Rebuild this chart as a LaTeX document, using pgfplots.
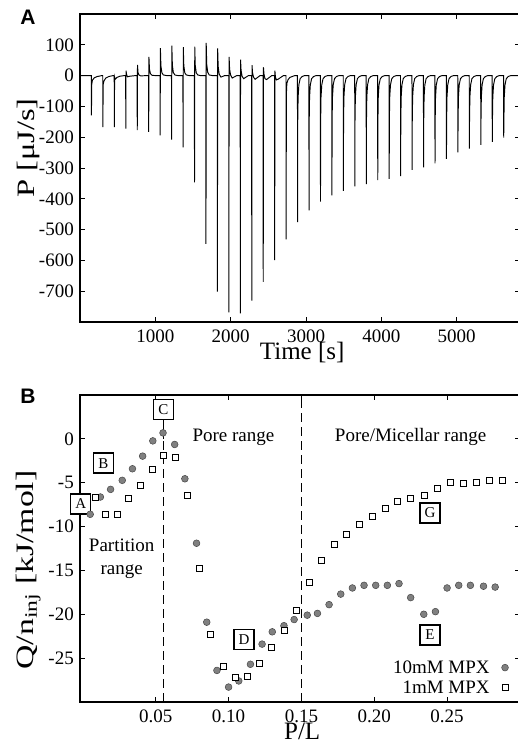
\documentclass[border=0pt]{standalone}
\usepackage{fontspec}
\setmainfont{Liberation Serif}
\newfontfamily\arialfont{Liberation Sans}
\usepackage{graphicx}
\usepackage{pgfplots}
\pgfplotsset{compat=1.18}
\definecolor{circfill}{RGB}{128,128,128}
\definecolor{circedge}{RGB}{70,70,70}
\begin{document}
\begin{tikzpicture}
\pgfplotsset{
 myaxis/.style={scale only axis, width=440pt,
   axis line style={line width=1.5pt},
   tick align=inside, major tick length=5pt,
   tick style={black, line width=0.9pt},
   ticklabel style={font=\fontsize{19}{21}\selectfont, inner sep=1pt},
   xticklabel style={yshift=-7pt},
   yticklabel style={xshift=-5pt},
   /pgf/number format/assume math mode=true,
   label style={font=\fontsize{25}{28}\selectfont, inner sep=0pt}}
}
% ---------------- Panel A ----------------
\begin{axis}[myaxis, at={(80pt,424pt)}, anchor=south west, height=308pt,
  xmin=0, xmax=5840, ymin=-800, ymax=200,
  xtick={1000,2000,3000,4000,5000}, xticklabels={1000,2000,3000,4000,5000},
  ytick={-700,-600,-500,-400,-300,-200,-100,0,100},
  yticklabels={-700,-600,-500,-400,-300,-200,-100,0,100},
  xlabel={Time [s]}, ylabel={\scalebox{1.3}[1]{P [μJ/s]}},
  xlabel style={at={(axis description cs:0.505,-0.1)}, anchor=center},
  ylabel style={at={(axis description cs:-0.118,0.565)}, anchor=center}]
\addplot[black, line width=0.95pt] coordinates {
(0,0)
(150,0)(152,-129)(155,-30)(165,-15)(190,-7)(230,-3)(290,0)
(302,0)(304,-167)(307,-30)(317,-18)(342,-8)(382,-3)(440,0)
(454,0)(456,-167)(459,-5)(466,-12)(490,-6)(530,-2)(590,0)
(606,0)(608,-172)(611,16)(618,4)(630,-4)(660,-2)(740,0)
(758,0)(760,-177)(763,35)(770,10)(782,2)(805,-1)(890,0)
(910,0)(912,-183)(915,61)(922,21)(935,6)(955,1)(1000,0)
(1062,0)(1064,-194)(1067,89)(1074,31)(1087,9)(1107,2)(1150,0)
(1214,0)(1216,-208)(1219,97)(1226,34)(1239,10)(1259,2)(1300,0)
(1366,0)(1368,-233)(1371,92)(1378,32)(1391,9)(1411,2)(1450,0)
(1518,0)(1520,-347)(1523,94)(1530,33)(1543,9)(1563,2)(1600,0)
(1670,0)(1672,-546)(1675,106)(1682,37)(1695,11)(1715,2)(1760,0)
(1822,0)(1824,-701)(1827,88)(1834,30)(1847,5)(1870,-5)(1920,0)
(1974,0)(1976,-769)(1979,61)(1986,20)(1999,2)(2020,-8)(2080,0)
(2126,0)(2128,-772)(2131,52)(2138,17)(2151,-2)(2172,-10)(2235,0)
(2278,0)(2280,-731)(2283,34)(2290,10)(2303,-5)(2324,-12)(2390,0)
(2430,0)(2432,-670)(2435,27)(2442,5)(2455,-10)(2476,-13)(2545,0)
(2582,0)(2584,-599)(2587,16)(2594,-5)(2607,-14)(2628,-12)(2700,0)
(2734,0)(2736,-532)(2739,-60)(2746,-25)(2760,-14)(2785,-6)(2850,0)
(2886,0)(2888,-476)(2890,-150)(2895,-70)(2905,-30)(2922,-10)(2948,-3)(2981,0)
(3038,0)(3040,-438)(3042,-150)(3047,-70)(3057,-30)(3074,-10)(3100,-3)(3133,0)
(3190,0)(3192,-409)(3194,-150)(3199,-70)(3209,-30)(3226,-10)(3252,-3)(3285,0)
(3342,0)(3344,-389)(3346,-150)(3351,-70)(3361,-30)(3378,-10)(3404,-3)(3437,0)
(3494,0)(3496,-374)(3498,-150)(3503,-70)(3513,-30)(3530,-10)(3556,-3)(3589,0)
(3646,0)(3648,-360)(3650,-150)(3655,-70)(3665,-30)(3682,-10)(3708,-3)(3741,0)
(3798,0)(3800,-352)(3802,-150)(3807,-70)(3817,-30)(3834,-10)(3860,-3)(3893,0)
(3950,0)(3952,-339)(3954,-150)(3959,-70)(3969,-30)(3986,-10)(4012,-3)(4045,0)
(4102,0)(4104,-335)(4106,-150)(4111,-70)(4121,-30)(4138,-10)(4164,-3)(4197,0)
(4254,0)(4256,-326)(4258,-150)(4263,-70)(4273,-30)(4290,-10)(4316,-3)(4349,0)
(4406,0)(4408,-306)(4410,-150)(4415,-70)(4425,-30)(4442,-10)(4468,-3)(4501,0)
(4558,0)(4560,-298)(4562,-150)(4567,-70)(4577,-30)(4594,-10)(4620,-3)(4653,0)
(4710,0)(4712,-285)(4714,-150)(4719,-70)(4729,-30)(4746,-10)(4772,-3)(4805,0)
(4862,0)(4864,-270)(4866,-150)(4871,-70)(4881,-30)(4898,-10)(4924,-3)(4957,0)
(5014,0)(5016,-249)(5018,-150)(5023,-70)(5033,-30)(5050,-10)(5076,-3)(5109,0)
(5166,0)(5168,-237)(5170,-150)(5175,-70)(5185,-30)(5202,-10)(5228,-3)(5261,0)
(5318,0)(5320,-225)(5322,-150)(5327,-70)(5337,-30)(5354,-10)(5380,-3)(5413,0)
(5470,0)(5472,-215)(5474,-150)(5479,-70)(5489,-30)(5506,-10)(5532,-3)(5565,0)
(5622,0)(5624,-201)(5626,-150)(5631,-70)(5641,-30)(5658,-10)(5684,-3)(5717,0)
(5840,0)
};
\end{axis}
% ---------------- Panel B ----------------
\begin{axis}[myaxis, at={(80pt,44pt)}, anchor=south west, height=307pt,
  clip=false,
  xmin=-0.002, xmax=0.30006, ymin=-30, ymax=5,
  xtick={0.05,0.1,0.15,0.2,0.25}, xticklabels={0.05,0.10,0.15,0.20,0.25},
  ytick={-25,-20,-15,-10,-5,0}, yticklabels={-25,-20,-15,-10,-5,0},
  xlabel={P/L}, ylabel={\scalebox{1.35}[1]{Q/n\textsubscript{inj} [kJ/mol]}},
  xlabel style={at={(axis description cs:0.505,-0.095)}, anchor=center},
  ylabel style={at={(axis description cs:-0.118,0.43)}, anchor=center},
  legend style={draw=none, fill=none, font=\fontsize{19}{21}\selectfont,
    at={(axis description cs:0.981,0.01)}, anchor=south east,
    row sep=2pt, column sep=10pt},
  legend cell align=right, legend plot pos=right]
\addplot[black, line width=1.5pt, dash pattern=on 9pt off 5pt, forget plot] coordinates {(0.15,-30)(0.15,5)};
\addplot[black, line width=1.5pt, dash pattern=on 9pt off 5pt, forget plot] coordinates {(0.0552,-30)(0.0552,0)};
\addplot[black, line width=1.5pt, forget plot] coordinates {(0.0552,0)(0.0552,2.3)};
\addplot[only marks, mark=*, mark size=3.4pt, mark options={fill=circfill, draw=circedge, line width=0.5pt}] coordinates {
(0.005,-8.6)(0.012,-6.63)(0.019,-5.76)(0.027,-4.73)(0.034,-3.41)(0.041,-1.97)(0.048,-0.23)(0.055,0.68)(0.063,-0.64)(0.070,-4.55)(0.078,-11.9)(0.085,-20.9)(0.092,-26.4)(0.100,-28.3)(0.107,-27.6)(0.115,-25.7)(0.123,-23.4)(0.130,-22.0)(0.138,-21.3)(0.145,-20.6)(0.154,-20.1)(0.161,-19.9)(0.169,-18.9)(0.177,-17.7)(0.185,-17.0)(0.193,-16.7)(0.201,-16.7)(0.209,-16.7)(0.217,-16.5)(0.225,-18.1)(0.234,-20.0)(0.242,-19.7)(0.250,-17.0)(0.258,-16.7)(0.266,-16.7)(0.275,-16.8)(0.283,-16.9)
};
\addlegendentry{10mM MPX}
\addplot[only marks, mark=square*, mark size=3pt, mark options={fill=white, draw=black, line width=0.7pt}] coordinates {
(0.0085,-6.7)(0.0157,-8.6)(0.0233,-8.6)(0.0313,-6.8)(0.0395,-5.34)(0.0475,-3.52)(0.0553,-1.9)(0.0635,-2.1)(0.0717,-6.4)(0.0797,-14.8)(0.0877,-22.3)(0.0962,-25.9)(0.1044,-27.2)(0.1129,-27.1)(0.1213,-25.6)(0.1295,-23.8)(0.138,-21.8)(0.1465,-19.5)(0.1552,-16.4)(0.1636,-13.9)(0.1723,-12.0)(0.181,-10.9)(0.1897,-9.77)(0.1986,-8.83)(0.2073,-7.92)(0.2162,-7.16)(0.2251,-6.78)(0.2341,-6.4)(0.243,-5.64)(0.2519,-5.0)(0.261,-5.11)(0.2701,-4.96)(0.2791,-4.7)(0.2882,-4.7)
};
\addlegendentry{1mM MPX}
\tikzset{boxlab/.style={draw=black, line width=1.5pt, fill=white, minimum size=20pt, inner sep=0pt, font=\fontsize{15}{15}\selectfont}}
\node[boxlab] at (axis cs:-0.0015,-7.4) {A};
\node[boxlab] at (axis cs:0.014,-2.77) {B};
\node[boxlab] at (axis cs:0.0552,3.33) {C};
\node[boxlab] at (axis cs:0.1106,-22.9) {D};
\node[boxlab] at (axis cs:0.2383,-22.35) {E};
\node[boxlab] at (axis cs:0.2383,-8.45) {G};
\node[font=\fontsize{19}{21}\selectfont] at (axis cs:0.1033,0.2) {Pore range};
\node[font=\fontsize{19}{21}\selectfont] at (axis cs:0.225,0.2) {Pore/Micellar range};
\node[font=\fontsize{19}{23}\selectfont, align=center] at (axis cs:0.0266,-13.65) {Partition\\range};
\end{axis}
\node[font=\arialfont\bfseries\fontsize{21}{21}\selectfont] at (28pt,729pt) {A};
\node[font=\arialfont\bfseries\fontsize{21}{21}\selectfont] at (28pt,350pt) {B};
\pgfresetboundingbox
\useasboundingbox (0pt,0pt) rectangle (517pt,746pt);
\end{tikzpicture}
\end{document}
